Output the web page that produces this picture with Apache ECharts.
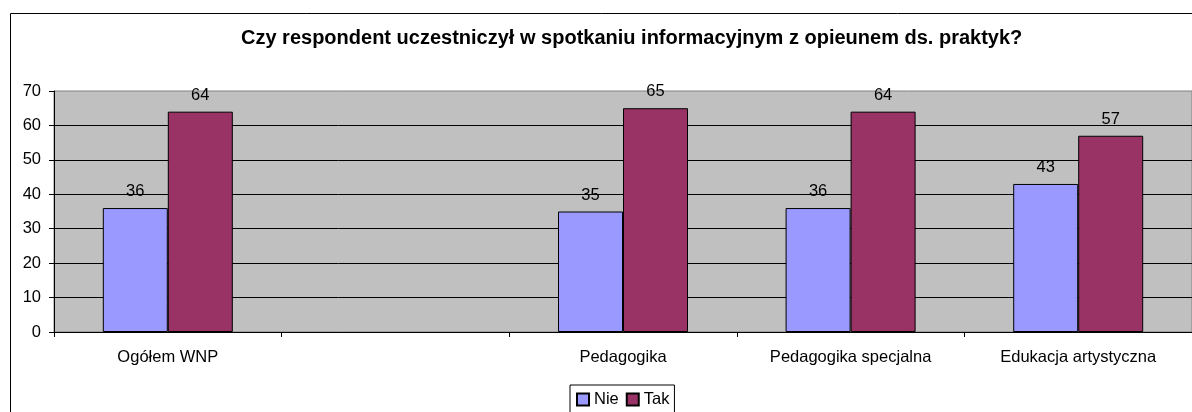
<!DOCTYPE html>
<html>
<head>
<meta charset="utf-8">
<script src="https://cdn.jsdelivr.net/npm/echarts@6/dist/echarts.min.js"></script>
<style>
  html, body { margin: 0; padding: 0; background: #fff; }
  #chart { width: 1192px; height: 412px; }
</style>
</head>
<body>
<div id="chart"></div>
<script>
// dane
const categories = ["Ogółem WNP", "", "Pedagogika", "Pedagogika specjalna", "Edukacja artystyczna"];
const nieValues = [36, null, 35, 36, 43];
const takValues = [64, null, 65, 64, 57];
const seriesNames = ["Nie", "Tak"];

const font = "Arial, 'Liberation Sans', sans-serif";

const myChart = echarts.init(document.getElementById("chart"));

const labelStyle = {
  show: true,
  position: "top",
  distance: 8,
  color: "#000",
  fontSize: 16.5,
  fontFamily: font,
};

const option = {
  animation: false,
  backgroundColor: "#fff",
  title: {
    text: "Czy respondent uczestniczył w spotkaniu informacyjnym z opieunem ds. praktyk?",
    left: 241,
    top: 28,
    padding: 0,
    textStyle: {
      fontSize: 20,
      fontWeight: "bold",
      fontFamily: font,
      color: "#000",
    },
  },
  // ramka wykresu
  graphic: [
    {
      type: "rect",
      left: 8,
      top: 11,
      shape: { width: 1300, height: 500 },
      style: { fill: "none", stroke: "#000", lineWidth: 1 },
      z: 100,
    },
  ],
  legend: {
    data: seriesNames,
    left: 570,
    top: 385,
    orient: "horizontal",
    itemWidth: 12,
    itemHeight: 12,
    itemGap: 7,
    padding: [6, 5, 8, 6],
    borderColor: "#000",
    borderWidth: 1,
    icon: "rect",
    textStyle: { fontSize: 16.5, fontFamily: font, color: "#000" },
  },
  grid: {
    left: 54,
    right: 0,
    top: 91,
    bottom: 80,
    show: true,
    backgroundColor: "#c0c0c0",
    borderColor: "#808080",
    borderWidth: 1,
  },
  xAxis: {
    type: "category",
    data: categories,
    axisLine: { lineStyle: { color: "#000", width: 1 } },
    axisTick: { show: true, length: 5, lineStyle: { color: "#000" } },
    axisLabel: {
      interval: 0,
      margin: 17,
      color: "#000",
      fontSize: 16.5,
      fontFamily: font,
    },
  },
  yAxis: {
    type: "value",
    min: 0,
    max: 70,
    interval: 10,
    axisLine: { show: true, lineStyle: { color: "#000", width: 1 } },
    axisTick: { show: true, length: 5, lineStyle: { color: "#000" } },
    axisLabel: {
      margin: 13,
      color: "#000",
      fontSize: 16.5,
      fontFamily: font,
    },
    splitLine: {
      show: true,
      showMaxLine: false,
      lineStyle: { color: "#000", width: 1 },
    },
  },
  series: [
    {
      name: seriesNames[0],
      type: "bar",
      data: nieValues,
      barWidth: 65,
      barGap: "0%",
      itemStyle: { color: "#9999ff", borderColor: "#000", borderWidth: 1 },
      label: labelStyle,
    },
    {
      name: seriesNames[1],
      type: "bar",
      data: takValues,
      barWidth: 65,
      barGap: "0%",
      itemStyle: { color: "#993366", borderColor: "#000", borderWidth: 1 },
      label: labelStyle,
    },
  ],
};

myChart.setOption(option);
window.onresize = function () {
  myChart.resize();
};
</script>
</body>
</html>
